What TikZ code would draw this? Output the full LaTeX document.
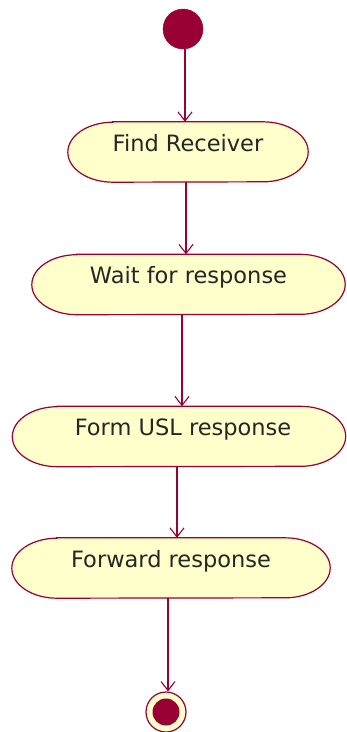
\documentclass[tikz,border=0pt]{standalone}
\usepackage{fontspec}
\setmainfont{DejaVu Sans}
\usetikzlibrary{arrows.meta}
\definecolor{umlred}{HTML}{990033}
\definecolor{umlfill}{HTML}{FFFFCC}
\pgfdeclarelayer{bg}
\pgfsetlayers{bg,main}
\tikzset{
  act/.style={inner sep=0pt, text height=29pt, text depth=31pt, align=center,
    font=\fontsize{22.5}{26}\selectfont, text=black!85},
  actshape/.style={draw=umlred, fill=umlfill, line width=1.2pt},
  flow/.style={draw=umlred, line width=1.2pt, -{Straight Barb[length=9pt,width=14pt,line width=1.1pt]}},
  startdot/.style={circle, fill=umlred, draw=umlred, inner sep=0pt, minimum size=40pt},
  endring/.style={circle, fill=umlfill, draw=umlred, line width=1.2pt, inner sep=0pt, minimum size=40pt},
  enddot/.style={circle, fill=umlred, inner sep=0pt, minimum size=27pt}
}
\begin{document}
\begin{tikzpicture}[x=1pt,y=-1pt]
\useasboundingbox (0,0) rectangle (346,732);
\node[startdot] (start) at (183,29) {};
\node[act, minimum width=240pt] (find) at (188,152) {Find Receiver};
\node[act, minimum width=313pt] (wait) at (188.5,284.5) {Wait for response};
\node[act, minimum width=333pt] (form) at (179,436.5) {\hspace*{8pt}Form USL response};
\node[act, minimum width=318pt] (fwd) at (171,568) {Forward response};
\node[endring] (end) at (166,712) {};
\node[enddot] (endin) at (end.center) {};
\begin{pgfonlayer}{bg}
\foreach \n in {find,wait,form,fwd}{
  \draw[actshape] ([xshift=45pt]\n.north west) -- ([xshift=-45pt]\n.north east)
    arc[start angle=90,end angle=-90,x radius=45pt,y radius=30pt]
    -- ([xshift=45pt]\n.south west)
    arc[start angle=270,end angle=90,x radius=45pt,y radius=30pt] -- cycle;
}
\end{pgfonlayer}
\draw[flow] ([xshift=2pt]start.south) -- ([xshift=2pt]start.south |- find.north);
\draw[flow] ([xshift=-2pt]find.south) -- ([xshift=-2pt]find.south |- wait.north);
\draw[flow] ([xshift=-6.5pt]wait.south) -- ([xshift=-6.5pt]wait.south |- form.north);
\draw[flow] ([xshift=-2pt]form.south) -- ([xshift=-2pt]form.south |- fwd.north);
\draw[flow] ([xshift=-3pt]fwd.south) -- ([xshift=-3pt]fwd.south |- end.north);
\end{tikzpicture}
\end{document}
